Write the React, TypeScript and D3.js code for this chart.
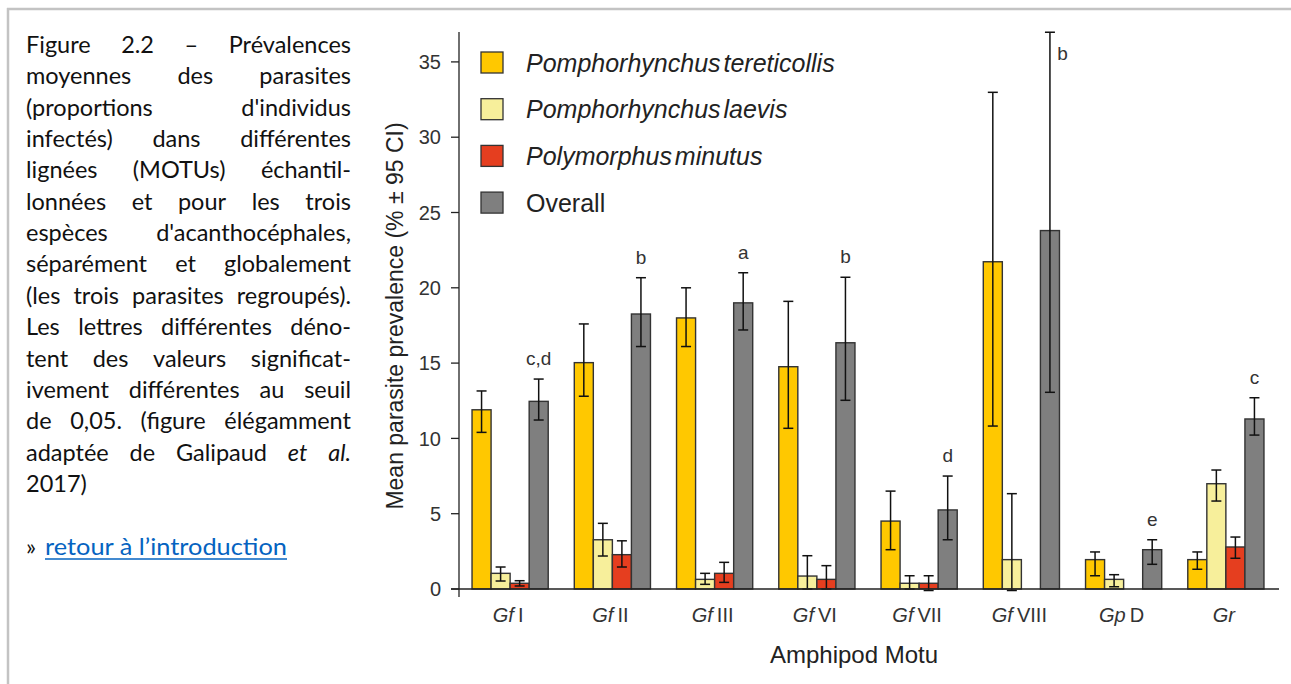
import React, { useEffect, useRef } from "react";
import * as d3 from "d3";

// ---------- data ----------
const categories = ["Gf I", "Gf II", "Gf III", "Gf VI", "Gf VII", "Gf VIII", "Gp D", "Gr"];
const catPrefix = ["Gf", "Gf", "Gf", "Gf", "Gf", "Gf", "Gp", "Gr"];
const catSuffix = ["I", "II", "III", "VI", "VII", "VIII", "D", ""];

const seriesNames = ["Pomphorhynchus tereticollis", "Pomphorhynchus laevis", "Polymorphus minutus", "Overall"];
const seriesItalic = [true, true, true, false];
const seriesColors = ["#FFC800", "#F7EF9B", "#E53E1F", "#7F7F7F"];

const tereticollisMean = [11.9, 15.03, 18.0, 14.76, 4.51, 21.73, 1.95, 1.95];
const tereticollisLow = [10.4, 12.8, 16.1, 10.67, 2.61, 10.82, 0.88, 1.31];
const tereticollisHigh = [13.15, 17.6, 20.0, 19.1, 6.5, 32.98, 2.46, 2.46];

const laevisMean = [1.04, 3.27, 0.64, 0.86, 0.38, 1.95, 0.64, 6.99];
const laevisLow = [0.53, 2.19, 0.31, 0, 0, -0.1, 0.15, 5.84];
const laevisHigh = [1.46, 4.36, 1.04, 2.21, 0.88, 6.33, 0.95, 7.9];

const minutusMean = [0.38, 2.28, 1.04, 0.64, 0.38, null, null, 2.79];
const minutusLow = [0.2, 1.46, 0.44, 0, -0.1, null, null, 2.04];
const minutusHigh = [0.55, 3.2, 1.77, 1.55, 0.88, null, null, 3.45];

const overallMean = [12.46, 18.26, 19.0, 16.35, 5.25, 23.8, 2.61, 11.29];
const overallLow = [11.22, 16.1, 17.2, 12.53, 3.27, 13.06, 1.64, 10.22];
const overallHigh = [13.94, 20.67, 21.0, 20.7, 7.5, 36.97, 3.27, 12.7];

const letters = ["c,d", "b", "a", "b", "d", "b", "e", "c"];
const yTicks = [0, 5, 10, 15, 20, 25, 30, 35];

const captionLines = [
  "Figure 2.2 – Prévalences",
  "moyennes des parasites",
  "(proportions d'individus",
  "infectés) dans différentes",
  "lignées (MOTUs) échantil-",
  "lonnées et pour les trois",
  "espèces d'acanthocéphales,",
  "séparément et globalement",
  "(les trois parasites regroupés).",
  "Les lettres différentes déno-",
  "tent des valeurs significat-",
  "ivement différentes au seuil",
  "de 0,05. (figure élégamment",
  "adaptée de Galipaud *et* *al.*",
  "2017)",
];

const means = [tereticollisMean, laevisMean, minutusMean, overallMean];
const lows = [tereticollisLow, laevisLow, minutusLow, overallLow];
const highs = [tereticollisHigh, laevisHigh, minutusHigh, overallHigh];

// ---------- layout ----------
const W = 1291;
const H = 684;
const AX = 459;
const CHART_FONT = "'Liberation Sans', Arial, sans-serif";
const CAP_FONT = "Lato, 'Open Sans', sans-serif";

export default function App() {
  const capRef = useRef<SVGGElement>(null);

  const y = d3.scaleLinear().domain([0, 37]).range([589, 589 - 37 * 15.06]);
  const x0 = d3.scaleBand<string>().domain(categories).range([AX, 1277]).paddingInner(0.255).paddingOuter(0.1275);
  const x1 = d3.scaleBand<string>().domain(seriesNames).range([0, x0.bandwidth()]);

  useEffect(() => {
    const draw = () => {
      const g = d3.select(capRef.current);
      g.selectAll("*").remove();
      const L = 26, R = 351;
      captionLines.forEach((line, k) => {
        const yy = 53 + k * 31.35;
        const toks = line.split(" ").map((t) =>
          t.startsWith("*") ? { t: t.slice(1, -1), i: true } : { t, i: false }
        );
        const nodes = toks.map((tok) =>
          g.append("text")
            .attr("x", 0)
            .attr("y", yy)
            .attr("font-style", tok.i ? "italic" : "normal")
            .text(tok.t)
        );
        const widths = nodes.map((n) => (n.node() as SVGTextElement).getComputedTextLength());
        const total = d3.sum(widths);
        const justify = k < captionLines.length - 1 && toks.length > 1;
        let gap = justify ? (R - L - total) / (toks.length - 1) : 5;
        let scale = 1;
        if (justify && gap < 3.5) {
          gap = 3.5;
          scale = (R - L - gap * (toks.length - 1)) / total;
        }
        let xx = L;
        nodes.forEach((n, j) => {
          n.attr("x", xx);
          if (scale < 1) n.attr("textLength", widths[j] * scale).attr("lengthAdjust", "spacingAndGlyphs");
          xx += widths[j] * scale + gap;
        });
      });
    };
    draw();
    if ((document as any).fonts && (document as any).fonts.ready) {
      (document as any).fonts.ready.then(draw);
    }
  }, []);

  return (
    <svg
      width={W}
      height={H}
      style={{ position: "absolute", left: 0, top: 0, background: "#fff" }}
    >
      {/* frame */}
      <line x1={7} x2={W} y1={9} y2={9} stroke="#c3c3c3" strokeWidth={2.5} />
      <line x1={8} x2={8} y1={8} y2={H} stroke="#c3c3c3" strokeWidth={2.5} />

      {/* caption */}
      <g ref={capRef} fontFamily={CAP_FONT} fontSize={23.5} fill="#111" />
      <g fontFamily={CAP_FONT} fontSize={23.5}>
        <text x={26} y={555} fill="#111">»</text>
        <text x={45} y={555} fill="#0563C1" textLength={242} lengthAdjust="spacingAndGlyphs">
          retour à l’introduction
        </text>
        <line x1={45} x2={287} y1={559} y2={559} stroke="#0563C1" strokeWidth={1.5} />
      </g>

      {/* y axis */}
      <g fontFamily={CHART_FONT}>
        <line x1={AX} x2={AX} y1={32} y2={597} stroke="#222" strokeWidth={1.3} />
        {yTicks.map((t) => (
          <g key={t}>
            <line x1={AX - 8} x2={AX} y1={y(t)} y2={y(t)} stroke="#222" strokeWidth={1.3} />
            <text x={441} y={y(t)} dy="0.36em" textAnchor="end" fontSize={20} fill="#333">
              {t}
            </text>
          </g>
        ))}
        <text
          transform={`translate(403,316) rotate(-90)`}
          textAnchor="middle"
          fontSize={23}
          fill="#222"
        >
          Mean parasite prevalence (% ± 95 CI)
        </text>
      </g>

      {/* bars */}
      {categories.map((c, i) => (
        <g key={c} transform={`translate(${x0(c)},0)`}>
          {seriesNames.map((s, k) => {
            const v = means[k][i];
            if (v === null) return null;
            return (
              <rect
                key={s}
                x={x1(s)}
                y={y(v)}
                width={x1.bandwidth()}
                height={y(0) - y(v)}
                fill={seriesColors[k]}
                stroke="#333"
                strokeWidth={1.4}
              />
            );
          })}
          {seriesNames.map((s, k) => {
            const v = means[k][i];
            const lo = lows[k][i];
            const hi = highs[k][i];
            if (v === null || lo === null || hi === null) return null;
            const cx = (x1(s) as number) + x1.bandwidth() / 2;
            return (
              <g key={s + "e"} stroke="#111" strokeWidth={1.5}>
                <line x1={cx} x2={cx} y1={y(lo)} y2={y(hi)} />
                <line x1={cx - 5} x2={cx + 5} y1={y(hi)} y2={y(hi)} />
                <line x1={cx - 5} x2={cx + 5} y1={y(lo)} y2={y(lo)} />
              </g>
            );
          })}
          {(() => {
            const s = seriesNames[3];
            const cx = (x1(s) as number) + x1.bandwidth() / 2;
            const hi = overallHigh[i];
            const over = hi > 35;
            return (
              <text
                x={over ? cx + 12.5 : cx}
                y={over ? y(hi) + 28 : y(hi) - 14}
                textAnchor="middle"
                fontFamily={CHART_FONT}
                fontSize={19}
                fill="#333"
              >
                {letters[i]}
              </text>
            );
          })()}
        </g>
      ))}

      {/* x axis */}
      <line x1={AX - 8} x2={1279} y1={y(0)} y2={y(0)} stroke="#222" strokeWidth={1.3} />
      <g fontFamily={CHART_FONT} fontSize={20} fill="#333">
        {categories.map((c, i) => (
          <text key={c} x={(x0(c) as number) + x0.bandwidth() / 2 - 2} y={622} textAnchor="middle">
            <tspan fontStyle="italic">{catPrefix[i]}</tspan>
            {catSuffix[i] ? <tspan dx={4}>{catSuffix[i]}</tspan> : null}
          </text>
        ))}
        <text x={854} y={663} textAnchor="middle" fontSize={24} fill="#222">
          Amphipod Motu
        </text>
      </g>

      {/* legend */}
      <g fontFamily={CHART_FONT}>
        {seriesNames.map((s, k) => {
          const cy = 62.5 + k * 46.7;
          return (
            <g key={s}>
              <rect x={481} y={cy - 10.5} width={22} height={21} fill={seriesColors[k]} stroke="#333" strokeWidth={1.3} />
              <text
                x={526}
                y={cy + 9}
                fontSize={25}
                fill="#222"
                fontStyle={seriesItalic[k] ? "italic" : "normal"}
                style={{ wordSpacing: "-4px" }}
              >
                {s}
              </text>
            </g>
          );
        })}
      </g>
    </svg>
  );
}
